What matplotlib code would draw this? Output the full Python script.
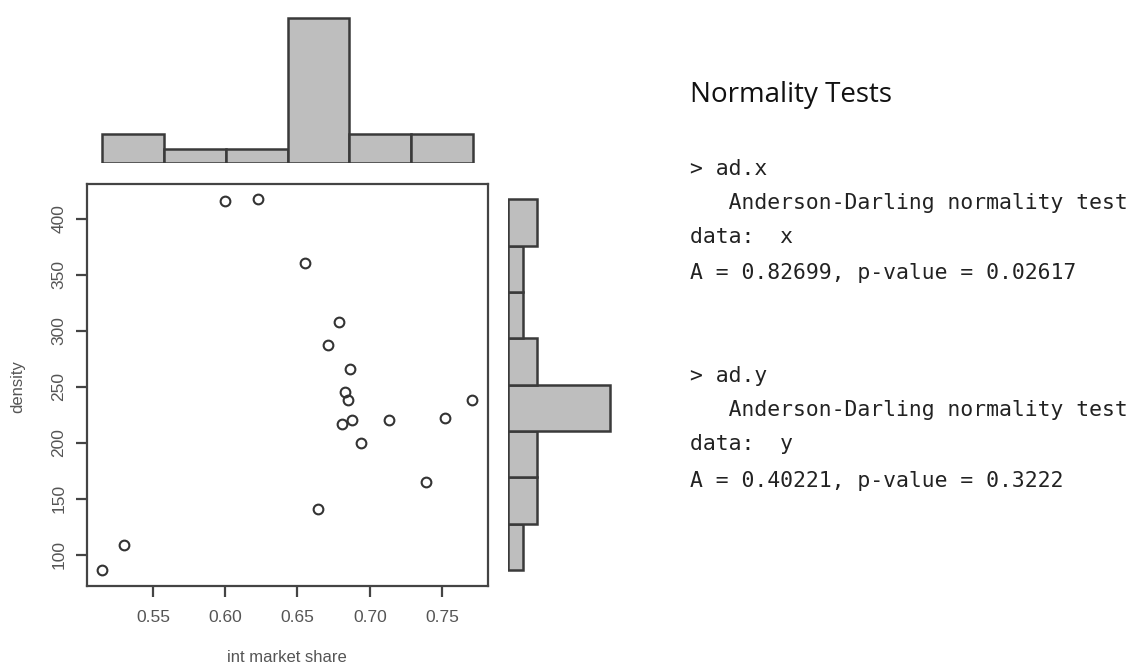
import matplotlib
matplotlib.use("Agg")
import matplotlib.pyplot as plt
import numpy as np

# ---------------- data ----------------
market_share = [0.515, 0.530, 0.600, 0.623, 0.655, 0.679, 0.671, 0.686, 0.683,
                0.685, 0.681, 0.688, 0.694, 0.713, 0.752, 0.771, 0.739, 0.664]
density = [86.6, 109.2, 416.0, 417.3, 360.2, 308.0, 287.3, 266.2, 245.4,
           238.3, 216.9, 220.4, 200.2, 220.4, 222.2, 238.3, 165.1, 141.3]

x_bin_edges = [0.5147, 0.5575, 0.6003, 0.6431, 0.6859, 0.7287, 0.7715]
x_counts = [2, 1, 1, 10, 2, 2]

y_bin_edges = [86.6, 127.9, 169.2, 210.6, 251.9, 293.2, 334.5, 375.9, 417.2]
y_counts = [1, 2, 2, 7, 2, 1, 1, 2]

x_ticks = [0.55, 0.60, 0.65, 0.70, 0.75]
x_tick_labels = ["0.55", "0.60", "0.65", "0.70", "0.75"]
y_ticks = [100, 150, 200, 250, 300, 350, 400]
y_tick_labels = ["100", "150", "200", "250", "300", "350", "400"]

title_text = "Normality Tests"
test_lines_x = ["> ad.x", "   Anderson-Darling normality test", "data:  x",
                "A = 0.82699, p-value = 0.02617"]
test_lines_y = ["> ad.y", "   Anderson-Darling normality test", "data:  y",
                "A = 0.40221, p-value = 0.3222"]

# ---------------- layout ----------------
W, H = 1133, 666
fig = plt.figure(figsize=(W / 100, H / 100), dpi=100)
fig.patch.set_facecolor("white")


def px_axes(left, top, right, bottom):
    return fig.add_axes([left / W, 1 - bottom / H, (right - left) / W, (bottom - top) / H])


XLIM = (0.5044, 0.7818)
YLIM = (72.3, 431.0)

edge_col = "#3a3a3a"
face_col = "#bebebe"
text_col = "#555555"

# scatter
ax = px_axes(87, 184, 488, 586)
ax.plot(market_share, density, linestyle="none", marker="o", ms=7,
        mfc="none", mec="#333333", mew=1.5)
ax.set_xlim(*XLIM)
ax.set_ylim(*YLIM)
for s in ax.spines.values():
    s.set_color("#444444")
    s.set_linewidth(1.6)
ax.set_xticks(x_ticks)
ax.set_xticklabels(x_tick_labels)
ax.set_yticks(y_ticks)
ax.set_yticklabels(y_tick_labels, rotation=90, va="center")
ax.tick_params(axis="both", direction="out", length=8, width=1.6, color="#444444",
               labelcolor=text_col, labelsize=12.5)
ax.tick_params(axis="x", pad=9)
ax.tick_params(axis="y", pad=7)
for lbl in ax.get_xticklabels() + ax.get_yticklabels():
    lbl.set_family("Liberation Sans")
fig.text(287 / W, 1 - 657 / H, "int market share", ha="center", va="center",
         fontsize=12, color=text_col, family="Liberation Sans")
fig.text(18 / W, 1 - 387 / H, "density", ha="center", va="center", rotation=90,
         fontsize=12, color=text_col, family="Liberation Sans")

# top histogram
axt = px_axes(87, 12, 488, 163.3)
xl = np.array(x_bin_edges[:-1])
xw = np.diff(x_bin_edges)
axt.bar(xl, x_counts, width=xw, align="edge", color=face_col, edgecolor=edge_col,
        linewidth=1.8)
axt.set_xlim(*XLIM)
axt.set_ylim(0, 10.4)
axt.axis("off")

# right histogram
axr = px_axes(508.3, 184, 625, 586)
yb = np.array(y_bin_edges[:-1])
yh = np.diff(y_bin_edges)
axr.barh(yb, y_counts, height=yh, align="edge", color=face_col, edgecolor=edge_col,
         linewidth=1.8)
axr.set_ylim(*YLIM)
axr.set_xlim(0, (625 - 508.3) / 14.5)
axr.axis("off")

# right-hand text
fig.text(690 / W, 1 - 101.7 / H, title_text, ha="left", va="baseline",
         fontsize=20, color="#111111", family="Open Sans")

mono = "DejaVu Sans Mono"
base1 = [175, 209, 243, 279]
base2 = [381.7, 415.7, 450, 486.7]
for line, b in zip(test_lines_x, base1):
    fig.text(690 / W, 1 - b / H, line, ha="left", va="baseline", fontsize=15.4,
             color="#222222", family=mono)
for line, b in zip(test_lines_y, base2):
    fig.text(690 / W, 1 - b / H, line, ha="left", va="baseline", fontsize=15.4,
             color="#222222", family=mono)

fig.savefig("out.png", dpi=100)
